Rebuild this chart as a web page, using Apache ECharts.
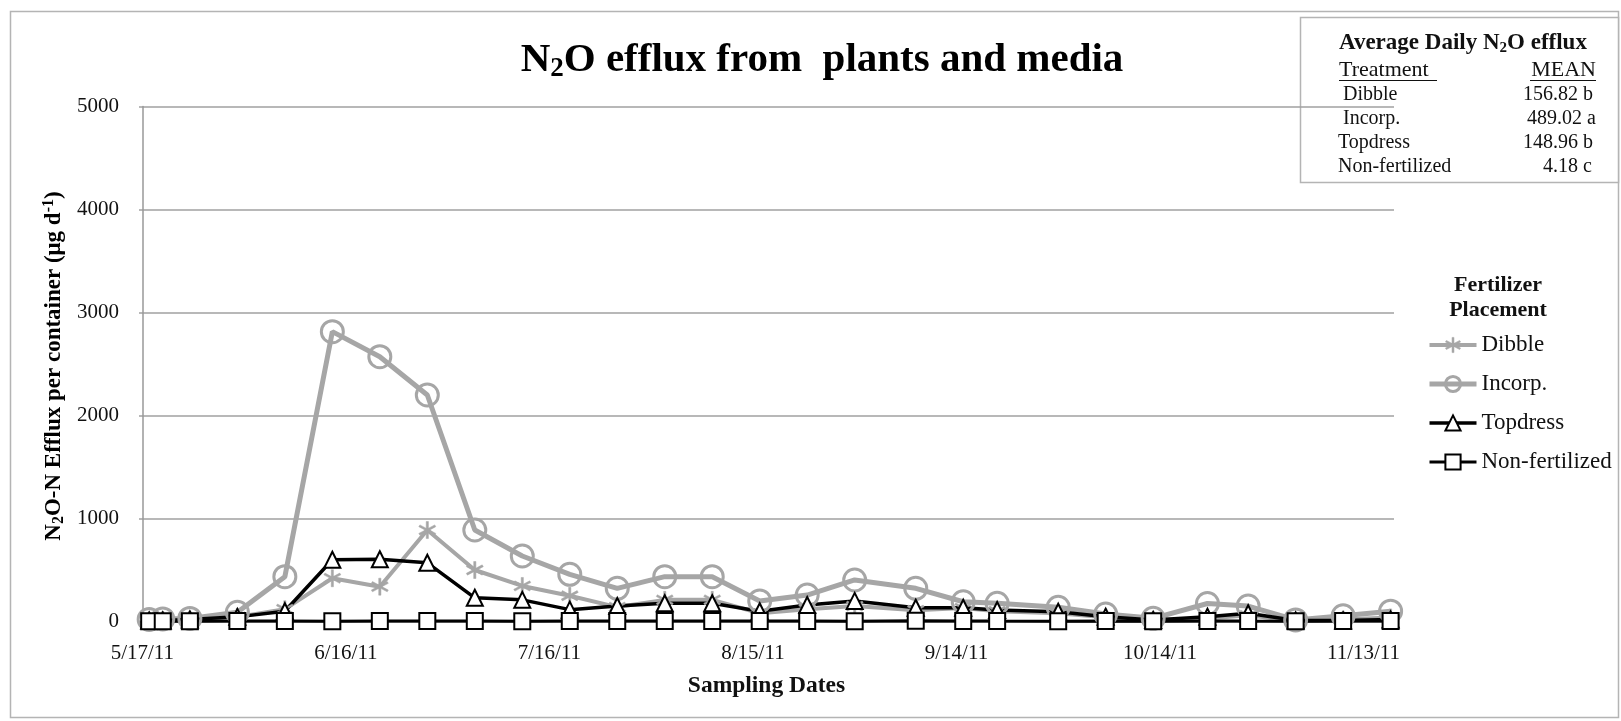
<!DOCTYPE html>
<html>
<head>
<meta charset="utf-8">
<script src="https://cdn.jsdelivr.net/npm/echarts@6/dist/echarts.min.js"></script>
<style>html,body{margin:0;padding:0;background:#fff}#c{width:1621px;height:721px}</style>
</head>
<body>
<div id="c"></div>
<script>
// ---------------- data ----------------
const sampleDates = ['2011-05-18','2011-05-20','2011-05-24','2011-05-31','2011-06-07','2011-06-14','2011-06-21','2011-06-28','2011-07-05','2011-07-12','2011-07-19','2011-07-26','2011-08-02','2011-08-09','2011-08-16','2011-08-23','2011-08-30','2011-09-08','2011-09-15','2011-09-20','2011-09-29','2011-10-06','2011-10-13','2011-10-21','2011-10-27','2011-11-03','2011-11-10','2011-11-17'];
const dibble  = [10,15,20,45,120,420,338,888,500,345,250,140,210,210,80,120,150,110,130,100,80,40,15,30,60,5,20,40];
const incorp  = [20,25,30,90,435,2814,2571,2199,888,636,458,322,435,435,200,257,403,322,192,177,138,73,31,175,150,15,55,100];
const topdress= [10,10,20,45,100,600,604,570,230,210,115,150,177,177,100,160,200,134,134,112,95,47,15,47,80,10,10,20];
const nonFert = [2,3,2,4,5,3,6,5,4,3,5,4,6,5,4,6,3,8,5,4,3,4,2,5,4,3,4,5];
const seriesNames = ['Dibble','Incorp.','Topdress','Non-fertilized'];
const startDate = '2011-05-17';
const xTickDays = [0,30,60,90,120,150,180];
const yTicks = [0,1000,2000,3000,4000,5000];
const tableRows = [['Dibble','156.82 b'],['Incorp.','489.02 a'],['Topdress','148.96 b'],['Non-fertilized','4.18 c']];

// ---------------- helpers ----------------
function toUTC(s){const p=s.split('-').map(Number);return Date.UTC(p[0],p[1]-1,p[2]);}
const t0 = toUTC(startDate);
function dayOff(s){return Math.round((toUTC(s)-t0)/86400000);}
function dayLabel(d){const dt=new Date(t0+d*86400000);return (dt.getUTCMonth()+1)+'/'+dt.getUTCDate()+'/'+String(dt.getUTCFullYear()).slice(2);}
function pairs(vals){return sampleDates.map((s,i)=>[dayOff(s),vals[i]]);}

const GRAY='#a6a6a6';
const SERIF='"Liberation Serif","Times New Roman",serif';
const starPath='path://M1.2,-10L-1.2,-10L-1.2,10L1.2,10ZM9.26,-3.96L8.06,-6.04L-9.26,3.96L-8.06,6.04ZM-8.06,-6.04L-9.26,-3.96L8.06,6.04L9.26,3.96Z';

const styles = [
  {symbol:starPath,size:17,line:{color:GRAY,width:4},item:{color:GRAY,borderColor:GRAY,borderWidth:0.5}},
  {symbol:'circle',size:22,line:{color:GRAY,width:5},item:{color:'rgba(255,255,255,0)',borderColor:GRAY,borderWidth:3}},
  {symbol:'triangle',size:16,line:{color:'#000',width:3.5},item:{color:'#fff',borderColor:'#000',borderWidth:2}},
  {symbol:'rect',size:16,line:{color:'#000',width:3},item:{color:'#fff',borderColor:'#000',borderWidth:2}}
];
const seriesData = [dibble,incorp,topdress,nonFert];

const chart = echarts.init(document.getElementById('c'));

const graphic = [
  {type:'rect',shape:{x:10.5,y:11.5,width:1608,height:706},style:{fill:'none',stroke:'#b4b4b4',lineWidth:1.5},silent:true,z:-1},
  {type:'text',x:822,y:60,style:{text:'{a|N}{s|2}{a|O efflux from  plants and media}',align:'center',verticalAlign:'middle',
    rich:{a:{fontFamily:SERIF,fontWeight:'bold',fontSize:41,lineHeight:46,fill:'#000'},
          s:{fontFamily:SERIF,fontWeight:'bold',fontSize:27,lineHeight:18,verticalAlign:'bottom',fill:'#000'}}}},
  {type:'text',x:54,y:366,rotation:Math.PI/2,style:{
    text:'{a|N}{s|2}{a|O-N Efflux per container (μg d}{p|-1}{a|)}',align:'center',verticalAlign:'middle',
    rich:{a:{fontFamily:SERIF,fontWeight:'bold',fontSize:23,lineHeight:26,fill:'#000'},
          s:{fontFamily:SERIF,fontWeight:'bold',fontSize:16,lineHeight:12,verticalAlign:'bottom',fill:'#000'},
          p:{fontFamily:SERIF,fontWeight:'bold',fontSize:16,lineHeight:12,verticalAlign:'top',fill:'#000'}}}},
  // table box
  {type:'rect',shape:{x:1300.5,y:17.5,width:318,height:165},style:{fill:'#fff',stroke:'#b4b4b4',lineWidth:1.5}},
  {type:'text',x:1339,y:43,style:{text:'{a|Average Daily N}{s|2}{a|O efflux}',align:'left',verticalAlign:'middle',
    rich:{a:{fontFamily:SERIF,fontWeight:'bold',fontSize:23,lineHeight:26,fill:'#111'},
          s:{fontFamily:SERIF,fontWeight:'bold',fontSize:15,lineHeight:10,verticalAlign:'bottom',fill:'#111'}}}},
  {type:'text',x:1339,y:70,style:{text:'Treatment',font:'22px '+SERIF,fill:'#111',align:'left',verticalAlign:'middle'}},
  {type:'line',shape:{x1:1339,y1:80.5,x2:1437,y2:80.5},style:{stroke:'#111',lineWidth:1}},
  {type:'text',x:1596,y:70,style:{text:'MEAN',font:'22px '+SERIF,fill:'#111',align:'right',verticalAlign:'middle'}},
  {type:'line',shape:{x1:1530,y1:80.5,x2:1596,y2:80.5},style:{stroke:'#111',lineWidth:1}},
  // legend header
  {type:'text',x:1498,y:285,style:{text:'Fertilizer',font:'bold 22px '+SERIF,fill:'#111',align:'center',verticalAlign:'middle'}},
  {type:'text',x:1498,y:310,style:{text:'Placement',font:'bold 22px '+SERIF,fill:'#111',align:'center',verticalAlign:'middle'}}
];
const rowX=[1343,1343,1338,1338], rowR=[1593,1596,1593,1592];
tableRows.forEach((r,i)=>{
  const y=95+i*24;
  graphic.push({type:'text',x:rowX[i],y:y,style:{text:r[0],font:'20px '+SERIF,fill:'#111',align:'left',verticalAlign:'middle'}});
  graphic.push({type:'text',x:rowR[i],y:y,style:{text:r[1],font:'20px '+SERIF,fill:'#111',align:'right',verticalAlign:'middle'}});
});

const option = {
  animation:false,
  backgroundColor:'#fff',
  grid:{left:139,right:227,top:106.5,bottom:99.5,containLabel:false},
  legend:{
    orient:'vertical',left:1422,top:328.5,itemWidth:47,itemHeight:19,itemGap:16,padding:5,
    data:seriesNames.map((n,i)=>({name:n,lineStyle:{width:styles[i].line.width,color:styles[i].line.color},itemStyle:styles[i].item})),
    textStyle:{fontFamily:SERIF,fontSize:23,color:'#111',lineHeight:23},
    selectedMode:false
  },
  xAxis:{
    type:'value',min:-0.5,max:184.5,
    axisLine:{show:true,lineStyle:{color:'#999',width:1.5}},
    axisTick:{show:false},
    splitLine:{show:false},
    axisLabel:{customValues:xTickDays,formatter:v=>dayLabel(v),fontFamily:SERIF,fontSize:21,color:'#111',margin:21},
    name:'Sampling Dates',nameLocation:'middle',nameGap:52,
    nameTextStyle:{fontFamily:SERIF,fontWeight:'bold',fontSize:23.5,color:'#111'}
  },
  yAxis:{
    type:'value',min:yTicks[0],max:yTicks[yTicks.length-1],interval:1000,
    axisLine:{show:true,lineStyle:{color:'#999',width:1.5}},
    axisTick:{show:false},
    splitLine:{show:true,lineStyle:{color:'#a0a0a0',width:1.5}},
    axisLabel:{formatter:v=>String(v),fontFamily:SERIF,fontSize:21,color:'#111',margin:20}
  },
  series:seriesNames.map((n,i)=>({
    name:n,type:'line',data:pairs(seriesData[i]),symbol:styles[i].symbol,symbolSize:styles[i].size,
    lineStyle:styles[i].line,itemStyle:styles[i].item,emphasis:{disabled:true}
  })),
  graphic:graphic
};
chart.setOption(option);
</script>
</body>
</html>
